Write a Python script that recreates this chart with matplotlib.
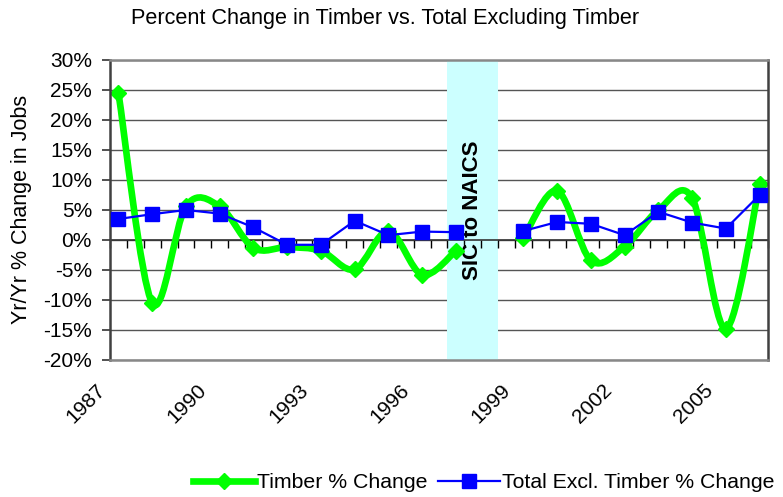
import numpy as np
import matplotlib
import matplotlib.pyplot as plt
import matplotlib.transforms as mtrans
from matplotlib.path import Path
from matplotlib.patches import PathPatch
from matplotlib.lines import Line2D

matplotlib.use('agg')
plt.rcParams['font.family'] = ['Liberation Sans', 'DejaVu Sans']

years = list(range(1987, 2007))
# yr/yr % change; 1998 missing (SIC to NAICS switch)
timber = [24.5, -10.5, 5.6, 5.6, -1.3, -1.2, -1.8, -4.9, 1.5, -5.8, -1.8,
          None, 0.3, 8.2, -3.4, -1.1, 5.0, 7.0, -14.8, 9.3]
total_excl = [3.5, 4.3, 5.0, 4.4, 2.1, -0.8, -0.8, 3.2, 0.8, 1.4, 1.3,
              None, 1.5, 3.0, 2.7, 0.8, 4.7, 2.9, 1.9, 7.5]
label_years = list(range(1987, 2006, 3))
y_ticks = list(range(-20, 31, 5))
band_years = (1997, 1998)

GREEN = '#00ff00'
BLUE = '#0000ff'


def smooth_path(x, y):
    # excel-like smoothed line: catmull-rom as cubic bezier
    verts = [(x[0], y[0])]
    codes = [Path.MOVETO]
    n = len(x)
    for i in range(n - 1):
        xp, yp = (x[i - 1], y[i - 1]) if i > 0 else (x[i], y[i])
        xn, yn = (x[i + 2], y[i + 2]) if i + 2 < n else (x[i + 1], y[i + 1])
        c1 = (x[i] + (x[i + 1] - xp) / 6, y[i] + (y[i + 1] - yp) / 6)
        c2 = (x[i + 1] - (xn - x[i]) / 6, y[i + 1] - (yn - y[i]) / 6)
        verts += [c1, c2, (x[i + 1], y[i + 1])]
        codes += [Path.CURVE4] * 3
    return Path(verts, codes)


def segments(xs, ys):
    seg = []
    for x, y in zip(xs, ys):
        if y is None:
            if seg:
                yield seg
            seg = []
        else:
            seg.append((x, y))
    if seg:
        yield seg


fig = plt.figure(figsize=(7.83, 4.97), dpi=100)
ax = fig.add_axes([0.1405, 0.2757, 0.8404, 0.6036])
ax.set_axisbelow(True)

ax.set_xlim(years[0] - 0.25, years[-1] + 0.25)
ax.set_ylim(-20, 30)

ax.axvspan(band_years[0] - 0.25, band_years[1] + 0.25, color='#ccffff',
           zorder=0.8, lw=0)
ax.text(sum(band_years) / 2, 5, 'SIC to NAICS', rotation=90, ha='center',
        va='center', fontsize=16, fontweight='bold', zorder=1.2)

for seg in segments(years, timber):
    sx = [p[0] for p in seg]
    sy = [p[1] for p in seg]
    ax.add_patch(PathPatch(smooth_path(sx, sy), fill=False, edgecolor=GREEN,
                           lw=4.8, capstyle='round', joinstyle='round',
                           zorder=2))
    ax.plot(sx, sy, 'D', color=GREEN, ms=8, zorder=2.1)

tot = [np.nan if v is None else v for v in total_excl]
ax.plot(years, tot, '-s', color=BLUE, lw=1.6, ms=9.5, zorder=3)

# grid and frame
ax.set_yticks(y_ticks)
ax.set_yticklabels([f'{v}%' for v in y_ticks], fontsize=15)
ax.yaxis.grid(True, color='#555555', lw=1)
ax.tick_params(axis='y', direction='out', length=6, width=1.2,
               color='#333333', pad=7)
for side in ['left', 'right']:
    ax.spines[side].set_color('#404040')
    ax.spines[side].set_linewidth(1.8)
for side in ['top', 'bottom']:
    ax.spines[side].set_color('#888888')
    ax.spines[side].set_linewidth(1.8)

ax.set_xticks(label_years)
ax.set_xticklabels([str(y) for y in label_years], rotation=45, ha='right',
                   va='center', rotation_mode='anchor', fontsize=15)
ax.tick_params(axis='x', length=0, pad=19.5)
shift = mtrans.ScaledTranslation(-16 / 100, 0, fig.dpi_scale_trans)
for lbl in ax.get_xticklabels():
    lbl.set_transform(lbl.get_transform() + shift)

# category axis crossing at 0 with half-year tick marks
zero_loc = (0 - y_ticks[0]) / (y_ticks[-1] - y_ticks[0])
sec = ax.secondary_xaxis(zero_loc)
sec.set_xticks(np.arange(years[0] - 0.25, years[-1] + 0.3, 0.5))
sec.tick_params(direction='out', length=6, width=1, color='black',
                labelbottom=False, labeltop=False)
sec.spines['bottom'].set_color('#333333')
sec.spines['bottom'].set_linewidth(1.2)
sec.set_zorder(1.5)

fig.text(0.492, 0.962, 'Percent Change in Timber vs. Total Excluding Timber',
         ha='center', va='center', fontsize=15.6)
fig.text(0.028, 0.579, 'Yr/Yr % Change in Jobs', rotation=90, ha='center',
         va='center', fontsize=15.5)

handles = [
    Line2D([], [], color=GREEN, lw=4.8, marker='D', ms=8),
    Line2D([], [], color=BLUE, lw=1.6, marker='s', ms=9.5),
]
fig.legend(handles, ['Timber % Change', 'Total Excl. Timber % Change'],
           loc='center', bbox_to_anchor=(484 / 783, 1 - 483 / 497), ncol=2,
           frameon=False, fontsize=15.3, handlelength=2.9, handletextpad=0.1,
           columnspacing=0.5, borderpad=0)

fig.savefig('out.png', dpi=100)
